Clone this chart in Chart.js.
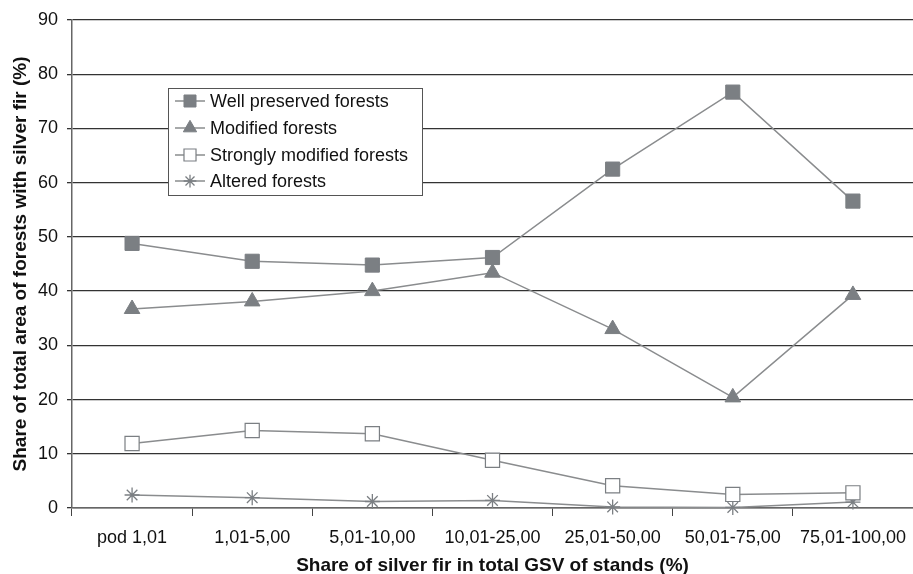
<!DOCTYPE html>
<html>
<head>
<meta charset="utf-8">
<script src="https://cdn.jsdelivr.net/npm/chart.js@4.4.1/dist/chart.umd.min.js"></script>
<style>
html,body{margin:0;padding:0;background:#fff;overflow:hidden;width:913px;height:574px;}
#wrap{width:913px;height:574px;position:relative;overflow:hidden;}
canvas{display:block;}
</style>
</head>
<body>
<div id="wrap"><canvas id="c"></canvas></div>
<script>
const categories = ["pod 1,01","1,01-5,00","5,01-10,00","10,01-25,00","25,01-50,00","50,01-75,00","75,01-100,00"];
const wellPreserved = [48.8, 45.5, 44.8, 46.2, 62.5, 76.7, 56.6];
const modified = [36.7, 38.1, 40.0, 43.4, 33.0, 20.4, 39.3];
const stronglyModified = [11.9, 14.3, 13.7, 8.8, 4.1, 2.5, 2.8];
const altered = [2.4, 1.9, 1.2, 1.4, 0.2, 0.1, 1.1];
const seriesNames = ["Well preserved forests","Modified forests","Strongly modified forests","Altered forests"];
const yTicks = [0,10,20,30,40,50,60,70,80,90];

const FONT = "'Liberation Sans', Arial, sans-serif";
const LINE = '#8a8c8e';
const MARK = '#7b7f83';

const legendPlugin = {
  id: 'boxLegend',
  afterDraw(chart) {
    const ctx = chart.ctx;
    const x0 = 168, y0 = 88, w = 254, h = 107;
    ctx.save();
    ctx.fillStyle = '#fff';
    ctx.fillRect(x0, y0, w, h);
    ctx.strokeStyle = '#555';
    ctx.lineWidth = 1;
    ctx.strokeRect(x0 + 0.5, y0 + 0.5, w, h);
    const rows = [101, 128, 155, 181];
    chart.data.datasets.forEach((ds, i) => {
      const y = rows[i];
      ctx.strokeStyle = LINE;
      ctx.lineWidth = 1.5;
      ctx.beginPath();
      ctx.moveTo(175, y);
      ctx.lineTo(205, y);
      ctx.stroke();
      ctx.fillStyle = ds.pointBackgroundColor;
      ctx.strokeStyle = ds.pointBorderColor;
      ctx.lineWidth = ds.pointBorderWidth;
      Chart.helpers.drawPoint(ctx, {pointStyle: ds.pointStyle, rotation: 0, radius: ds.pointRadius * 0.85, borderWidth: ds.pointBorderWidth}, 190, y);
      ctx.fillStyle = '#111';
      ctx.font = '18px ' + FONT;
      ctx.textBaseline = 'middle';
      ctx.textAlign = 'left';
      ctx.fillText(ds.label, 210, y + 1);
    });
    ctx.restore();
  }
};

function mk(label, data, style, radius, bg, border, bw) {
  return {
    label, data,
    borderColor: LINE, borderWidth: 1.5,
    pointStyle: style, pointRadius: radius, pointHoverRadius: radius,
    pointBackgroundColor: bg, pointBorderColor: border, pointBorderWidth: bw,
    tension: 0, fill: false, clip: false
  };
}

new Chart(document.getElementById('c'), {
  type: 'line',
  data: {
    labels: categories,
    datasets: [
      mk(seriesNames[0], wellPreserved, 'rect', 10, MARK, MARK, 1),
      mk(seriesNames[1], modified, 'triangle', 9, MARK, MARK, 1),
      mk(seriesNames[2], stronglyModified, 'rect', 10, '#fff', MARK, 1.2),
      mk(seriesNames[3], altered, 'star', 7.5, MARK, MARK, 1.3)
    ]
  },
  options: {
    responsive: true,
    maintainAspectRatio: false,
    animation: false,
    layout: {autoPadding: false, padding: {top: 20, right: -2, left: 0, bottom: 0}},
    plugins: {legend: {display: false}, tooltip: {enabled: false}},
    scales: {
      x: {
        offset: true,
        grid: {offset: true, drawOnChartArea: false, color: '#444', tickLength: 8, lineWidth: 1},
        border: {color: '#666', width: 1.5},
        ticks: {color: '#111', font: {family: FONT, size: 18}, padding: 11, maxRotation: 0, autoSkip: false},
        title: {display: true, text: 'Share of silver fir in total GSV of stands (%)', color: '#111',
                font: {family: FONT, size: 19, weight: 'bold'}, padding: {top: 0, bottom: -3}},
        afterFit(s) { s.height = 66; s.paddingLeft = 0; s.paddingRight = 0; }
      },
      y: {
        min: 0, max: 90,
        afterBuildTicks(s) { s.ticks = yTicks.map(v => ({value: v})); },
        grid: {color: '#333', lineWidth: 1.3, tickLength: 5},
        border: {color: '#666', width: 1.5},
        ticks: {color: '#111', font: {family: FONT, size: 18}, padding: 9},
        title: {display: true, text: 'Share of total area of forests with silver fir (%)', color: '#111',
                font: {family: FONT, size: 19, weight: 'bold'}, padding: {top: 9, bottom: 0}},
        afterFit(s) { s.width = 72; s.paddingTop = 0; s.paddingBottom = 0; }
      }
    }
  },
  plugins: [legendPlugin]
});
</script>
</body>
</html>
